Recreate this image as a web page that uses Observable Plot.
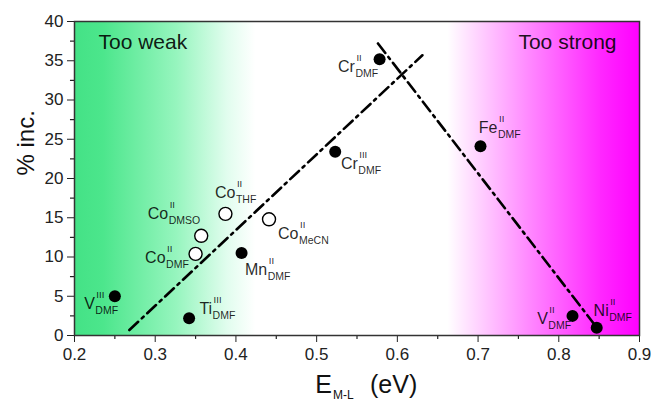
<!DOCTYPE html>
<html>
<head>
<meta charset="utf-8">
<script src="https://cdn.jsdelivr.net/npm/d3@7"></script>
<script src="https://cdn.jsdelivr.net/npm/@observablehq/plot@0.6"></script>
<style>
  html, body { margin: 0; padding: 0; background: white; }
</style>
</head>
<body>
<div id="chart"></div>
<script>
// ---- data ----
const metals     = ["V", "Ti", "Co", "Co", "Co", "Co", "Mn", "Cr", "Cr", "Fe", "V", "Ni"];
const oxidation  = ["III", "III", "II", "II", "II", "II", "II", "III", "II", "II", "II", "II"];
const solvents   = ["DMF", "DMF", "DMF", "DMSO", "THF", "MeCN", "DMF", "DMF", "DMF", "DMF", "DMF", "DMF"];
const energy     = [0.250, 0.342, 0.350, 0.357, 0.387, 0.441, 0.407, 0.523, 0.578, 0.703, 0.817, 0.847];
const incPercent = [5.0, 2.2, 10.4, 12.7, 15.5, 14.8, 10.5, 23.4, 35.2, 24.1, 2.5, 1.0];
const openMarker = [false, false, true, true, true, true, false, false, false, false, false, false];

// dash-dot guide lines (end points)
const riseX = [0.268, 0.631];
const riseY = [0.7, 35.7];
const fallX = [0.576, 0.851];
const fallY = [37.2, 0.5];

const xTicks = [0.2, 0.3, 0.4, 0.5, 0.6, 0.7, 0.8, 0.9];
const xMinor = [0.25, 0.35, 0.45, 0.55, 0.65, 0.75, 0.85];
const yTicks = [0, 5, 10, 15, 20, 25, 30, 35, 40];
const yMinor = [2.5, 7.5, 12.5, 17.5, 22.5, 27.5, 32.5, 37.5];

const regionLabels = ["Too weak", "Too strong"];

// ---- layout (label offsets in px: junction of symbol and sub/superscript) ----
const labelDx = [-20, 23, -30, -33, 10, 29.5, 25.7, 22.6, -24.7, 17, -24.7, 12];
const labelDy = [13, -4.5, 9, -17, -16, 19.5, 22.3, 17.3, 13, -13, 8, -12];

const bgStops = [
  [0.00, "rgb(68,226,134)"],
  [0.05, "rgb(76,230,140)"],
  [0.18, "rgb(150,245,190)"],
  [0.27, "rgb(225,253,238)"],
  [0.32, "rgb(255,255,255)"],
  [0.66, "rgb(255,255,255)"],
  [0.80, "rgb(255,140,255)"],
  [0.93, "rgb(255,40,255)"],
  [1.00, "rgb(255,0,255)"]
];

const points = metals.map((m, i) => ({
  metal: m, ox: oxidation[i], solv: solvents[i],
  x: energy[i], y: incPercent[i], open: openMarker[i]
}));
const rise = riseX.map((x, i) => ({x, y: riseY[i]}));
const fall = fallX.map((x, i) => ({x, y: fallY[i]}));

const txtColor = "black";
const txtOpacity = 0.85;
const font = "'Liberation Sans', Arial, Helvetica, sans-serif";

const labelMarks = [];
points.forEach((p, i) => {
  const dx = labelDx[i], dy = labelDy[i];
  labelMarks.push(
    Plot.text([p], {x: "x", y: "y", text: "metal", dx, dy, textAnchor: "end", lineAnchor: "bottom",
      fontSize: 16, fill: txtColor, fillOpacity: txtOpacity}),
    Plot.text([p], {x: "x", y: "y", text: "ox", dx: dx + 1.5, dy: dy - 11, textAnchor: "start", lineAnchor: "bottom",
      fontSize: 9.5, fill: txtColor, fillOpacity: txtOpacity}),
    Plot.text([p], {x: "x", y: "y", text: "solv", dx: dx + 0.5, dy: dy + 5, textAnchor: "start", lineAnchor: "bottom",
      fontSize: 10.5, fill: txtColor, fillOpacity: txtOpacity})
  );
});

const svg = Plot.plot({
  width: 651,
  height: 401,
  marginLeft: 74,
  marginRight: 12,
  marginTop: 21,
  marginBottom: 66,
  style: {fontFamily: font, fontSize: "17px", background: "white", color: "#222"},
  x: {domain: [0.2, 0.9], ticks: xTicks, tickFormat: d3.format(".1f"), tickSize: 7, tickPadding: 5, label: null},
  y: {domain: [0, 40], ticks: yTicks, tickSize: 7, tickPadding: 4, label: null},
  marks: [
    Plot.frame({fill: "url(#bgGrad)", stroke: "none"}),
    Plot.ruleX(xMinor, {x: d => d, y1: 0, y2: -0.5, stroke: "#222", strokeWidth: 1.2}),
    Plot.ruleY(yMinor, {y: d => d, x1: 0.2, x2: 0.2 - 0.005, stroke: "#222", strokeWidth: 1.2}),
    Plot.line(rise, {x: "x", y: "y", stroke: "black", strokeWidth: 2.6, strokeDasharray: "12,5,2.5,5"}),
    Plot.line(fall, {x: "x", y: "y", stroke: "black", strokeWidth: 2.6, strokeDasharray: "12,5,2.5,5"}),
    Plot.dot(points.filter(p => !p.open), {x: "x", y: "y", r: 6, fill: "black", stroke: "none"}),
    Plot.dot(points.filter(p => p.open), {x: "x", y: "y", r: 6.5, fill: "white", stroke: "black", strokeWidth: 1.4}),
    ...labelMarks,
    Plot.text([regionLabels[0]], {frameAnchor: "top-left", text: d => d, dx: 24, dy: 27, lineAnchor: "bottom",
      textAnchor: "start", fontSize: 21, fill: txtColor, fillOpacity: 0.9}),
    Plot.text([regionLabels[1]], {frameAnchor: "top-right", text: d => d, dx: -23, dy: 27, lineAnchor: "bottom",
      textAnchor: "end", fontSize: 21, fill: txtColor, fillOpacity: 0.9}),
    Plot.text(["% inc."], {frameAnchor: "left", text: d => d, rotate: -90, dx: -48, dy: -3,
      fontSize: 24, fill: "#111"}),
    Plot.text(["E"], {frameAnchor: "bottom", text: d => d, dx: -25, dy: 57, textAnchor: "end", lineAnchor: "bottom",
      fontSize: 25, fill: "#111"}),
    Plot.text(["M-L"], {frameAnchor: "bottom", text: d => d, dx: -24, dy: 63, textAnchor: "start", lineAnchor: "bottom",
      fontSize: 12, fill: "#111"}),
    Plot.text(["(eV)"], {frameAnchor: "bottom", text: d => d, dx: 13, dy: 57, textAnchor: "start", lineAnchor: "bottom",
      fontSize: 25, fill: "#111"}),
    Plot.frame({stroke: "#333", strokeWidth: 1.5})
  ]
});

const ns = "http://www.w3.org/2000/svg";
const defs = document.createElementNS(ns, "defs");
const grad = document.createElementNS(ns, "linearGradient");
grad.setAttribute("id", "bgGrad");
grad.setAttribute("x1", "0"); grad.setAttribute("y1", "0");
grad.setAttribute("x2", "1"); grad.setAttribute("y2", "0");
bgStops.forEach(([o, c]) => {
  const s = document.createElementNS(ns, "stop");
  s.setAttribute("offset", o);
  s.setAttribute("stop-color", c);
  grad.appendChild(s);
});
defs.appendChild(grad);
svg.insertBefore(defs, svg.firstChild);

document.getElementById("chart").appendChild(svg);
</script>
</body>
</html>
